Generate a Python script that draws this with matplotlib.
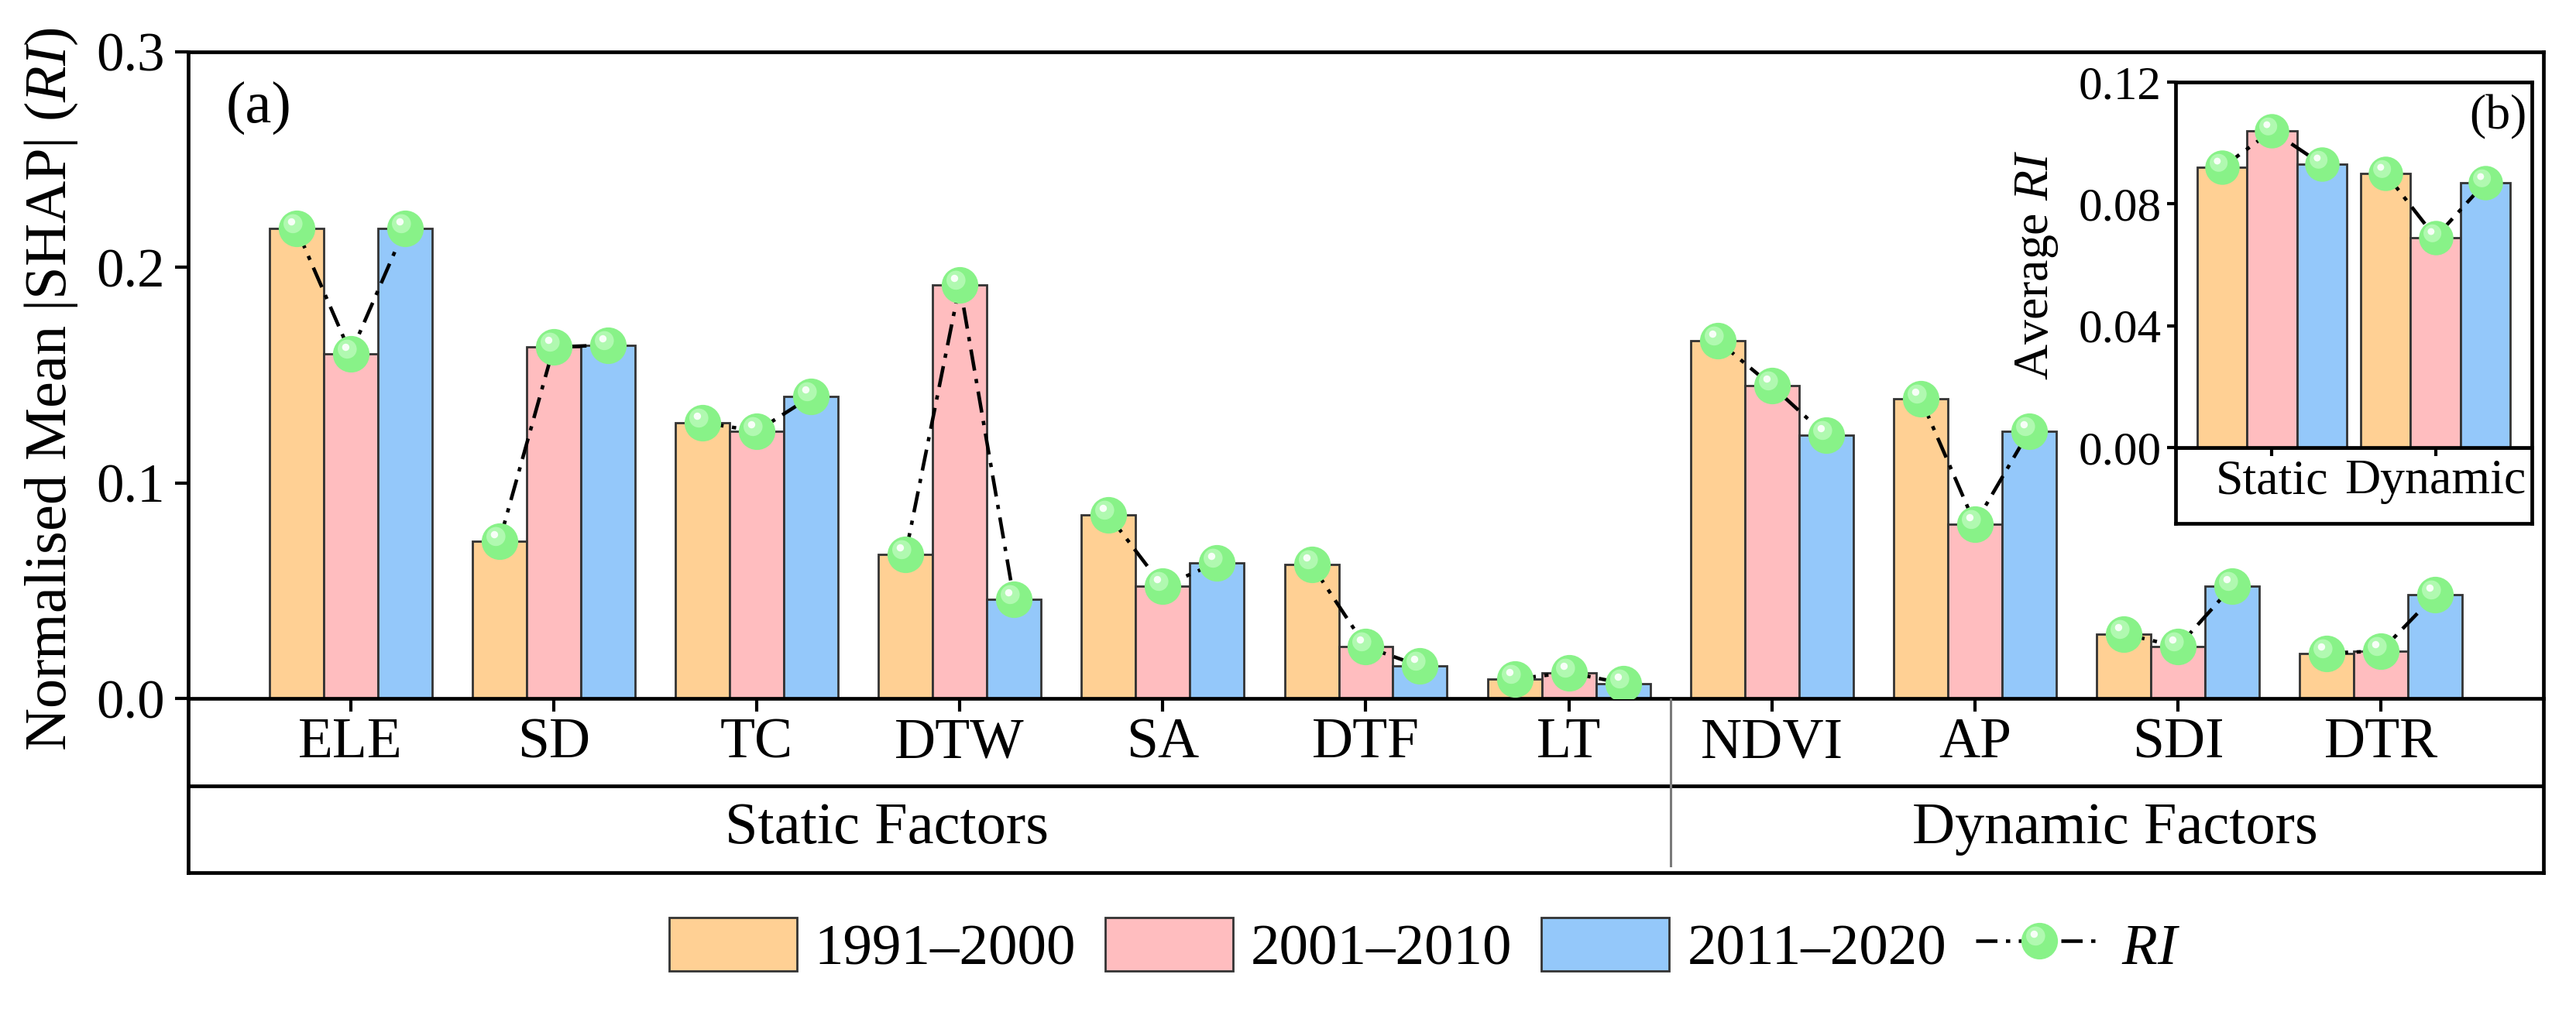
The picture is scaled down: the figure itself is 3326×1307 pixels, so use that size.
import numpy as np
import matplotlib
matplotlib.use('Agg')
import matplotlib.pyplot as plt
from matplotlib.path import Path
from matplotlib.patches import Rectangle
from matplotlib.lines import Line2D
from matplotlib.legend_handler import HandlerTuple

# Data
factors = ['ELE', 'SD', 'TC', 'DTW', 'SA', 'DTF', 'LT', 'NDVI', 'AP', 'SDI', 'DTR']
ri_1991_2000 = [0.218, 0.073, 0.128, 0.067, 0.085, 0.062, 0.009, 0.166, 0.139, 0.030, 0.021]
ri_2001_2010 = [0.160, 0.163, 0.124, 0.192, 0.052, 0.024, 0.012, 0.145, 0.081, 0.024, 0.022]
ri_2011_2020 = [0.218, 0.164, 0.140, 0.046, 0.063, 0.015, 0.007, 0.122, 0.124, 0.052, 0.048]

groups = ['Static', 'Dynamic']
avg_1991_2000 = [0.092, 0.090]
avg_2001_2010 = [0.104, 0.069]
avg_2011_2020 = [0.093, 0.087]

periods = ['1991–2000', '2001–2010', '2011–2020']
colors = ['#FFD094', '#FFBDBF', '#94C8FA']
edge = '#333333'

plt.rcParams['font.family'] = ['Liberation Serif', 'DejaVu Serif']
plt.rcParams['mathtext.fontset'] = 'custom'
plt.rcParams['mathtext.rm'] = 'Liberation Serif'
plt.rcParams['mathtext.it'] = 'Liberation Serif:italic'

W, H = 3326, 1307
fig = plt.figure(figsize=(W / 100, H / 100), dpi=100)


def frac(x0, y0, x1, y1):
    # pixel box (top-left origin) -> figure fraction rect
    return [x0 / W, 1 - y1 / H, (x1 - x0) / W, (y1 - y0) / H]


def shifted_circle(cx, cy, r):
    c = Path.circle((cx, cy), r)
    verts = np.vstack([[[-1, -1], [1, 1]], c.vertices])
    codes = np.concatenate([[Path.MOVETO, Path.MOVETO], c.codes])
    return Path(verts, codes)


glow = shifted_circle(-0.22, 0.28, 0.52)
spot = shifted_circle(-0.30, 0.38, 0.20)
LW_SPINE = 3.4
LW_RI = 3.3
DASH = (6.0, 2.4, 1.2, 2.4)
GREEN = '#88F288'


def sphere_line(ax, x, y, ms, zo=5):
    ax.plot(x, y, color='black', lw=LW_RI, dashes=DASH, marker='o', ms=ms,
            mfc=GREEN, mec=GREEN, mew=0, zorder=zo)
    ax.plot(x, y, ls='none', marker=glow, ms=ms, mfc='#B8FBB8', mec='none', alpha=0.85, zorder=zo + 0.1)
    ax.plot(x, y, ls='none', marker=spot, ms=ms, mfc='white', mec='none', alpha=0.9, zorder=zo + 0.2)


def style_axes(ax, fs, ticklen):
    for s in ax.spines.values():
        s.set_linewidth(LW_SPINE)
    ax.tick_params(axis='both', direction='out', length=ticklen, width=3, labelsize=fs, pad=10,
                   top=False, right=False)


# ---- main panel ----
ax = fig.add_axes(frac(243, 67, 3284, 902))
x = np.arange(len(factors))
bw = 0.267
series = [ri_1991_2000, ri_2001_2010, ri_2011_2020]
for i, vals in enumerate(series):
    ax.bar(x + (i - 1) * bw, vals, bw, color=colors[i], edgecolor=edge, lw=2, zorder=2)
for j in range(len(factors)):
    xs = [j - bw, j, j + bw]
    ys = [series[0][j], series[1][j], series[2][j]]
    sphere_line(ax, xs, ys, 34)

ax.set_xlim(-0.8, 10.8)
ax.set_ylim(0, 0.3)
ax.set_yticks([0, 0.1, 0.2, 0.3])
ax.set_yticklabels(['0.0', '0.1', '0.2', '0.3'])
ax.set_xticks(x)
ax.set_xticklabels([])
style_axes(ax, 51, 12)
ax.set_ylabel('Normalised Mean |SHAP| ($\\mathit{RI}$)', fontsize=55)
ax.yaxis.set_label_coords(-0.046, 0.478)
ax.text(0.016, 0.955, '(a)', transform=ax.transAxes, fontsize=55, ha='left', va='top')

# category table below main panel
tb = fig.add_axes(frac(243, 902, 3284, 1127), facecolor='none')
tb.set_xlim(-0.8, 10.8)
tb.set_ylim(0, 2)
tb.set_xticks([])
tb.set_yticks([])
for s in tb.spines.values():
    s.set_linewidth(LW_SPINE)
tb.spines['top'].set_visible(False)
tb.axhline(1, color='black', lw=LW_SPINE)
tb.plot([6.5, 6.5], [0.08, 2], color='#7a7a7a', lw=2.2)
for j, name in enumerate(factors):
    tb.text(j, 1.48, name, fontsize=53, ha='center', va='center')
tb.text(2.64, 0.5, 'Static Factors', fontsize=55, ha='center', va='center')
tb.text(8.69, 0.5, 'Dynamic Factors', fontsize=55, ha='center', va='center')

# ---- inset panel ----
ins = fig.add_axes(frac(2809, 106, 3269, 578), facecolor='white', zorder=10)
xi = np.arange(len(groups))
bwi = 0.305
avg_series = [avg_1991_2000, avg_2001_2010, avg_2011_2020]
for i, vals in enumerate(avg_series):
    ins.bar(xi + (i - 1) * bwi, vals, bwi, color=colors[i], edgecolor=edge, lw=2, zorder=2)
for j in range(len(groups)):
    xs = [j - bwi, j, j + bwi]
    ys = [avg_series[0][j], avg_series[1][j], avg_series[2][j]]
    sphere_line(ins, xs, ys, 32)
ins.set_xlim(-0.59, 1.59)
ins.set_ylim(0, 0.12)
ins.set_yticks([0, 0.04, 0.08, 0.12])
ins.set_yticklabels(['0.00', '0.04', '0.08', '0.12'])
ins.set_xticks(xi)
ins.set_xticklabels([])
style_axes(ins, 44, 8)
ins.tick_params(axis='y', pad=5)
ins.set_ylabel('Average $\\mathit{RI}$', fontsize=46)
ins.yaxis.set_label_coords(-0.325, 0.5)
ins.text(0.985, 0.965, '(b)', transform=ins.transAxes, fontsize=46, ha='right', va='top')

itb = fig.add_axes(frac(2809, 578, 3269, 676), facecolor='white', zorder=9)
itb.set_xlim(-0.59, 1.59)
itb.set_ylim(0, 1)
itb.set_xticks([])
itb.set_yticks([])
for s in itb.spines.values():
    s.set_linewidth(LW_SPINE)
for j, g in enumerate(groups):
    itb.text(j, 0.55, g, fontsize=46, ha='center', va='center')

# ---- legend ----
handles = [Rectangle((0, 0), 1, 1, facecolor=colors[i], edgecolor=edge, lw=2) for i in range(3)]
ri_handle = (
    Line2D([], [], color='black', lw=LW_RI, dashes=DASH, marker='o', ms=34, mfc=GREEN, mec=GREEN, mew=0),
    Line2D([], [], ls='none', marker=glow, ms=34, mfc='#B8FBB8', mec='none', alpha=0.85),
    Line2D([], [], ls='none', marker=spot, ms=34, mfc='white', mec='none', alpha=0.9),
)
handles.append(ri_handle)
labels = periods + ['$\\mathit{RI}$']
fig.legend(handles, labels, loc='center', bbox_to_anchor=(0.553, 0.0643), ncol=4, frameon=False,
           fontsize=54, handlelength=2.2, handleheight=1.05, handletextpad=0.31, columnspacing=0.5,
           handler_map={tuple: HandlerTuple(ndivide=1)})

fig.savefig('out.png', dpi=100)
